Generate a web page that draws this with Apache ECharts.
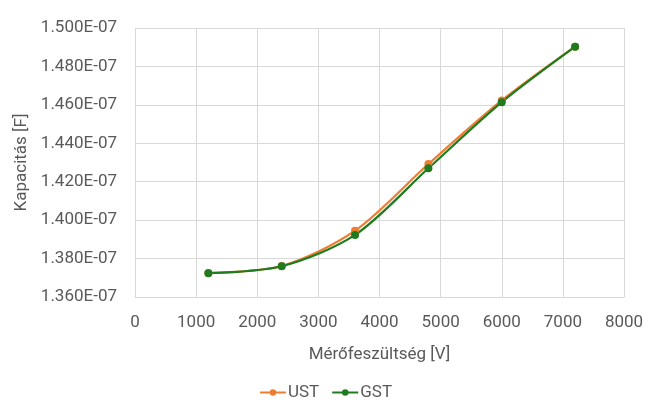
<!DOCTYPE html>
<html><head><meta charset="utf-8">
<script src="https://cdn.jsdelivr.net/npm/echarts@6/dist/echarts.min.js"></script>
<style>html,body{margin:0;padding:0;background:#fff}#c{width:651px;height:414px}</style>
</head><body><div id="c"></div>
<script>
const voltages = [1200, 2400, 3600, 4800, 6000, 7200];
const ust = [1.3725e-7, 1.3761e-7, 1.3945e-7, 1.4292e-7, 1.4623e-7, 1.4903e-7];
const gst = [1.3724e-7, 1.3760e-7, 1.3923e-7, 1.4270e-7, 1.4614e-7, 1.4903e-7];
const seriesNames = ['UST', 'GST'];

const font = 'Roboto, "Liberation Sans", sans-serif';
const txt = '#595959';
const fs = 17;
const chart = echarts.init(document.getElementById('c'));
const pairs = a => voltages.map((v, i) => [v, a[i]]);
chart.setOption({
  animation: false,
  backgroundColor: '#fff',
  grid: {left: 135, right: 27, top: 28, bottom: 117, outerBoundsMode: 'none', containLabel: false},
  legend: {
    top: 379, left: 'center', itemWidth: 26, itemHeight: 8, itemGap: 12,
    textStyle: {color: txt, fontSize: fs, fontFamily: font, padding: [0, 0, 0, -3]},
    data: seriesNames
  },
  xAxis: {
    type: 'value', min: 0, max: 8000, interval: 1000,
    name: 'Mérőfeszültség [V]', nameLocation: 'middle', nameGap: 49,
    nameTextStyle: {color: txt, fontSize: fs, fontFamily: font},
    axisLine: {show: true, lineStyle: {color: '#d9d9d9'}},
    axisTick: {show: false},
    axisLabel: {color: txt, fontSize: fs, fontFamily: font, margin: 17,
      formatter: v => String(v)},
    splitLine: {show: true, lineStyle: {color: '#d9d9d9'}}
  },
  yAxis: {
    type: 'value', min: 1.36e-7, max: 1.5e-7, interval: 0.02e-7,
    name: 'Kapacitás [F]', nameLocation: 'middle', nameGap: 104, nameRotate: 90,
    nameTextStyle: {color: txt, fontSize: fs, fontFamily: font},
    axisLine: {show: false}, axisTick: {show: false},
    axisLabel: {color: txt, fontSize: fs, fontFamily: font, margin: 18,
      formatter: v => (v * 1e7).toFixed(3) + 'E-07'},
    splitLine: {show: true, lineStyle: {color: '#d9d9d9'}}
  },
  series: [
    {name: 'UST', type: 'line', data: pairs(ust), smooth: 0.3, symbol: 'circle', symbolSize: 8,
     itemStyle: {color: '#ED7D31'}, lineStyle: {width: 2.2, color: '#ED7D31'}},
    {name: 'GST', type: 'line', data: pairs(gst), smooth: 0.3, symbol: 'circle', symbolSize: 8,
     itemStyle: {color: '#1E7B1E'}, lineStyle: {width: 2.2, color: '#1E7B1E'}}
  ]
});
</script></body></html>
